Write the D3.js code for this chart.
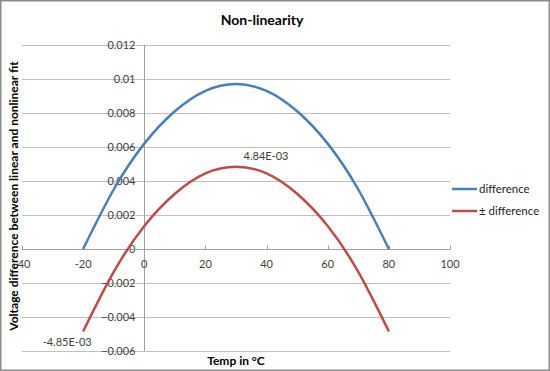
<!DOCTYPE html>
<html>

<head>
	<meta charset="utf-8">
	<script src="https://cdn.jsdelivr.net/npm/d3@7"></script>
	<style>
		body {
			margin: 0;
			background: #fff;
		}

		svg {
			display: block;
			font-family: Lato, "Liberation Sans", sans-serif;
		}

		.grid line {
			stroke: #c0c0c0;
			stroke-width: 1;
		}

		.tick-label {
			font-size: 11px;
			fill: #404040;
		}

		.series {
			fill: none;
			stroke-width: 2.5;
		}
	</style>
</head>

<body>
	<svg></svg>
	<script>
		var width = 550;
		var height = 371;

		// every 10 degrees
		var temps = [-20, -10, 0, 10, 20, 30, 40, 50, 60, 70, 80];
		var difference = [0, 0.0035, 0.0062, 0.0081, 0.0093, 0.0097, 0.0093, 0.0081, 0.0062, 0.0035, 0];
		var pmDifference = [-0.00485, -0.00135, 0.00135, 0.00325, 0.00445, 0.00484, 0.00445, 0.00325, 0.00135, -0.00135, -0.00485];
		var xTicks = [-40, -20, 0, 20, 40, 60, 80, 100];
		var yTicks = [-0.006, -0.004, -0.002, 0, 0.002, 0.004, 0.006, 0.008, 0.01, 0.012];
		var seriesNames = ["difference", "\u00b1 difference"];
		var colors = ["#4a7ebb", "#be4b48"];

		var svg = d3.select('svg')
			.attr("width", width)
			.attr("height", height);

		svg.append("rect")
			.attr("x", 0.75)
			.attr("y", 0.75)
			.attr("width", width - 1.5)
			.attr("height", height - 1.5)
			.attr("fill", "#fff")
			.attr("stroke", "#8c8c8c")
			.attr("stroke-width", 1.5);

		var x = d3.scaleLinear()
			.domain([-40, 100])
			.range([22, 450]);
		var y = d3.scaleLinear()
			.domain([-0.006, 0.012])
			.range([351, 45]);

		// horizontal gridlines
		svg.append("g")
			.attr("class", "grid")
			.selectAll("line")
			.data(yTicks)
			.enter()
			.append("line")
			.attr("x1", x.range()[0])
			.attr("x2", x.range()[1])
			.attr("y1", d => Math.round(y(d)) + 0.5)
			.attr("y2", d => Math.round(y(d)) + 0.5);

		// vertical axis at x = 0
		var x0 = Math.round(x(0)) + 0.5;
		svg.append("line")
			.attr("x1", x0).attr("x2", x0)
			.attr("y1", y.range()[1]).attr("y2", y.range()[0])
			.attr("stroke", "#a0a0a0");
		svg.selectAll(".yticklabel")
			.data(yTicks)
			.enter()
			.append("text")
			.attr("class", "tick-label")
			.attr("x", x0 - 9)
			.attr("y", d => y(d))
			.attr("dy", "0.35em")
			.attr("text-anchor", "end")
			.text(d => d3.format("")(+d.toFixed(3)));

		// horizontal axis at y = 0
		var y0 = Math.round(y(0)) + 0.5;
		svg.append("line")
			.attr("x1", x.range()[0]).attr("x2", x.range()[1])
			.attr("y1", y0).attr("y2", y0)
			.attr("stroke", "#a0a0a0");
		svg.selectAll(".xtick")
			.data(xTicks)
			.enter()
			.append("line")
			.attr("x1", d => Math.round(x(d)) + 0.5)
			.attr("x2", d => Math.round(x(d)) + 0.5)
			.attr("y1", y0)
			.attr("y2", y0 - 4)
			.attr("stroke", "#a0a0a0");
		svg.selectAll(".xticklabel")
			.data(xTicks)
			.enter()
			.append("text")
			.attr("class", "tick-label")
			.attr("x", d => x(d))
			.attr("y", y0 + 15)
			.attr("dy", "0.35em")
			.attr("text-anchor", "middle")
			.text(d => d);

		// series
		var line = d3.line()
			.curve(d3.curveNatural)
			.x((d, i) => x(temps[i]))
			.y(d => y(d));

		[difference, pmDifference].forEach(function (vals, i) {
			svg.append("path")
				.attr("class", "series")
				.attr("stroke", colors[i])
				.attr("d", line(vals));
		});

		// data labels on the ± difference series
		function excelExp(v) {
			var parts = v.toExponential(2).toUpperCase().split("E");
			var e = +parts[1];
			return parts[0] + "E" + (e < 0 ? "-" : "+") + String(Math.abs(e)).padStart(2, "0");
		}
		var iMax = d3.maxIndex(pmDifference);
		svg.append("text")
			.attr("class", "tick-label")
			.attr("x", x(temps[iMax]) + 30)
			.attr("y", y(pmDifference[iMax]) - 11)
			.attr("dy", "0.35em")
			.attr("text-anchor", "middle")
			.text(excelExp(pmDifference[iMax]));
		svg.append("text")
			.attr("class", "tick-label")
			.attr("x", x(temps[0]) - 16)
			.attr("y", y(pmDifference[0]) + 11)
			.attr("dy", "0.35em")
			.attr("text-anchor", "middle")
			.text(excelExp(pmDifference[0]));

		// titles
		svg.append("text")
			.attr("x", 262)
			.attr("y", 20)
			.attr("dy", "0.35em")
			.attr("text-anchor", "middle")
			.attr("font-weight", "bold")
			.attr("font-size", "14px")
			.text("Non-linearity");
		svg.append("text")
			.attr("transform", "translate(14,196) rotate(-90)")
			.attr("dy", "0.35em")
			.attr("text-anchor", "middle")
			.attr("font-weight", "bold")
			.attr("font-size", "12px")
			.text("Voltage difference between linear and nonlinear fit");
		svg.append("text")
			.attr("x", 236)
			.attr("y", 361)
			.attr("dy", "0.35em")
			.attr("text-anchor", "middle")
			.attr("font-weight", "bold")
			.attr("font-size", "12px")
			.text("Temp in \u00b0C");

		// legend
		var legend = svg.append("g")
			.selectAll("g")
			.data(seriesNames)
			.enter()
			.append("g")
			.attr("transform", (d, i) => "translate(452," + (189 + i * 22) + ")");
		legend.append("line")
			.attr("x1", 0).attr("x2", 25)
			.attr("stroke", (d, i) => colors[i])
			.attr("stroke-width", 2.5);
		legend.append("text")
			.attr("x", 27)
			.attr("dy", "0.35em")
			.attr("font-size", "11.5px")
			.attr("fill", "#222")
			.text(d => d);
	</script>
</body>

</html>
